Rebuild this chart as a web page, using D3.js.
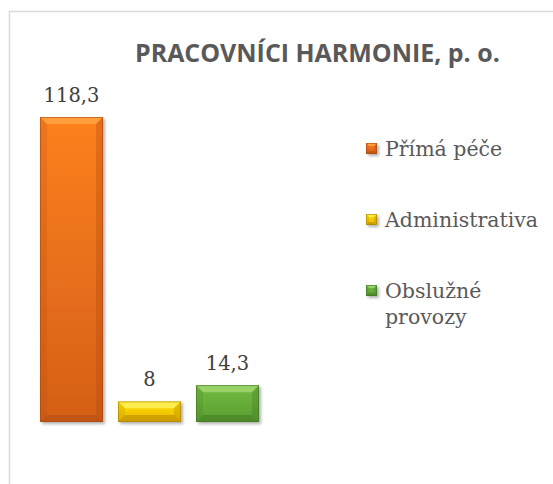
<!DOCTYPE html>
<html>
<head>
<meta charset="utf-8">
<script src="https://cdn.jsdelivr.net/npm/d3@7"></script>
<style>
  body { margin: 0; background: #fff; }
  svg { display: block; }
</style>
</head>
<body>
<script>
// chart data
var categories = ["Přímá péče", "Administrativa", "Obslužné provozy"];
var values = [118.3, 8, 14.3];
var valueLabels = ["118,3", "8", "14,3"];
var legendLines = [["Přímá péče"], ["Administrativa"], ["Obslužné", "provozy"]];
var title = "PRACOVNÍCI HARMONIE, p. o.";

// colours: base, light (top bevel), dark (bottom bevel / edge)
var palette = [
  { top: "#fd801f", bottom: "#d45f17", light: "#ffa545", dark: "#a8470f" },
  { top: "#ffe200", bottom: "#eab400", light: "#fff060", dark: "#a87e00" },
  { top: "#72bb41", bottom: "#5b9d31", light: "#a4d874", dark: "#3f7321" }
];

var width = 553, height = 484;
var svg = d3.select("body").append("svg")
  .attr("width", width)
  .attr("height", height);

var defs = svg.append("defs");
var shadow = defs.append("filter").attr("id", "shadow")
  .attr("x", "-20%").attr("y", "-20%").attr("width", "150%").attr("height", "150%");
shadow.append("feDropShadow")
  .attr("dx", 2).attr("dy", 2).attr("stdDeviation", 1.8)
  .attr("flood-color", "#000").attr("flood-opacity", 0.3);

palette.forEach(function (c, i) {
  var g = defs.append("linearGradient").attr("id", "grad" + i)
    .attr("x1", 0).attr("y1", 0).attr("x2", 0).attr("y2", 1);
  g.append("stop").attr("offset", "0%").attr("stop-color", c.top);
  g.append("stop").attr("offset", "100%").attr("stop-color", c.bottom);
});

// chart frame (only left and top visible, runs off the picture)
svg.append("rect")
  .attr("x", 9.5).attr("y", 11.5)
  .attr("width", 600).attr("height", 600)
  .attr("fill", "none")
  .attr("stroke", "#d9d9d9")
  .attr("stroke-width", 1.5);

// title
var titleText = svg.append("text")
  .attr("x", 135).attr("y", 62)
  .attr("fill", "#595959")
  .style("font-family", "'Open Sans', sans-serif")
  .style("font-weight", "bold")
  .style("font-size", "24px")
  .text(title);
var tw = titleText.node().getComputedTextLength();
titleText.style("font-size", (24 * 365 / tw) + "px");

// scales
var x = d3.scaleBand()
  .domain(categories)
  .range([32.5, 266.5])
  .paddingInner(0.1923)
  .paddingOuter(0.0962);

var y = d3.scaleLinear()
  .domain([0, d3.max(values)])
  .range([422, 117]);

function bevelBar(g, bx, by, bw, bh, c, i, b) {
  b = Math.min(b, bh / 2, bw / 2);
  g.append("rect")
    .attr("x", bx).attr("y", by).attr("width", bw).attr("height", bh)
    .attr("fill", "url(#grad" + i + ")");
  // top bevel
  g.append("polygon")
    .attr("points", [[bx, by], [bx + bw, by], [bx + bw - b, by + b], [bx + b, by + b]].join(" "))
    .attr("fill", c.light).attr("opacity", 0.8);
  // bottom bevel
  g.append("polygon")
    .attr("points", [[bx, by + bh], [bx + bw, by + bh], [bx + bw - b, by + bh - b], [bx + b, by + bh - b]].join(" "))
    .attr("fill", c.dark).attr("opacity", 0.45);
  // left bevel
  g.append("polygon")
    .attr("points", [[bx, by], [bx + b, by + b], [bx + b, by + bh - b], [bx, by + bh]].join(" "))
    .attr("fill", c.dark).attr("opacity", 0.18);
  // right bevel
  g.append("polygon")
    .attr("points", [[bx + bw, by], [bx + bw - b, by + b], [bx + bw - b, by + bh - b], [bx + bw, by + bh]].join(" "))
    .attr("fill", c.dark).attr("opacity", 0.3);
  g.append("rect")
    .attr("x", bx + 0.5).attr("y", by + 0.5).attr("width", bw - 1).attr("height", bh - 1)
    .attr("fill", "none").attr("stroke", c.dark).attr("stroke-opacity", 0.6).attr("stroke-width", 1);
}

// bars
categories.forEach(function (cat, i) {
  var g = svg.append("g").attr("filter", "url(#shadow)");
  var bx = x(cat), bw = x.bandwidth();
  var by = y(values[i]), bh = y(0) - y(values[i]);
  bevelBar(g, bx, by, bw, bh, palette[i], i, 7);
});

// value labels
svg.selectAll("text.value")
  .data(values)
  .enter().append("text")
  .attr("class", "value")
  .attr("x", function (d, i) { return x(categories[i]) + x.bandwidth() / 2; })
  .attr("y", function (d) { return y(d) - 15; })
  .attr("text-anchor", "middle")
  .attr("fill", "#404040")
  .style("font-family", "'DejaVu Serif', serif")
  .style("font-size", "19.5px")
  .text(function (d, i) { return valueLabels[i]; });

// legend
var legendY = [156, 227, 298];
var legend = svg.selectAll("g.legend")
  .data(legendLines)
  .enter().append("g")
  .attr("class", "legend");

legend.each(function (lines, i) {
  var g = d3.select(this);
  var m = g.append("g").attr("filter", "url(#shadow)");
  bevelBar(m, 366, legendY[i] - 13, 11, 11, palette[i], i, 3);
  var t = g.append("text")
    .attr("x", 385).attr("y", legendY[i])
    .attr("fill", "#595959")
    .style("font-family", "'DejaVu Serif', serif")
    .style("font-size", "20.5px");
  lines.forEach(function (l, j) {
    t.append("tspan").attr("x", 385).attr("dy", j === 0 ? 0 : 26).text(l);
  });
});
</script>
</body>
</html>
